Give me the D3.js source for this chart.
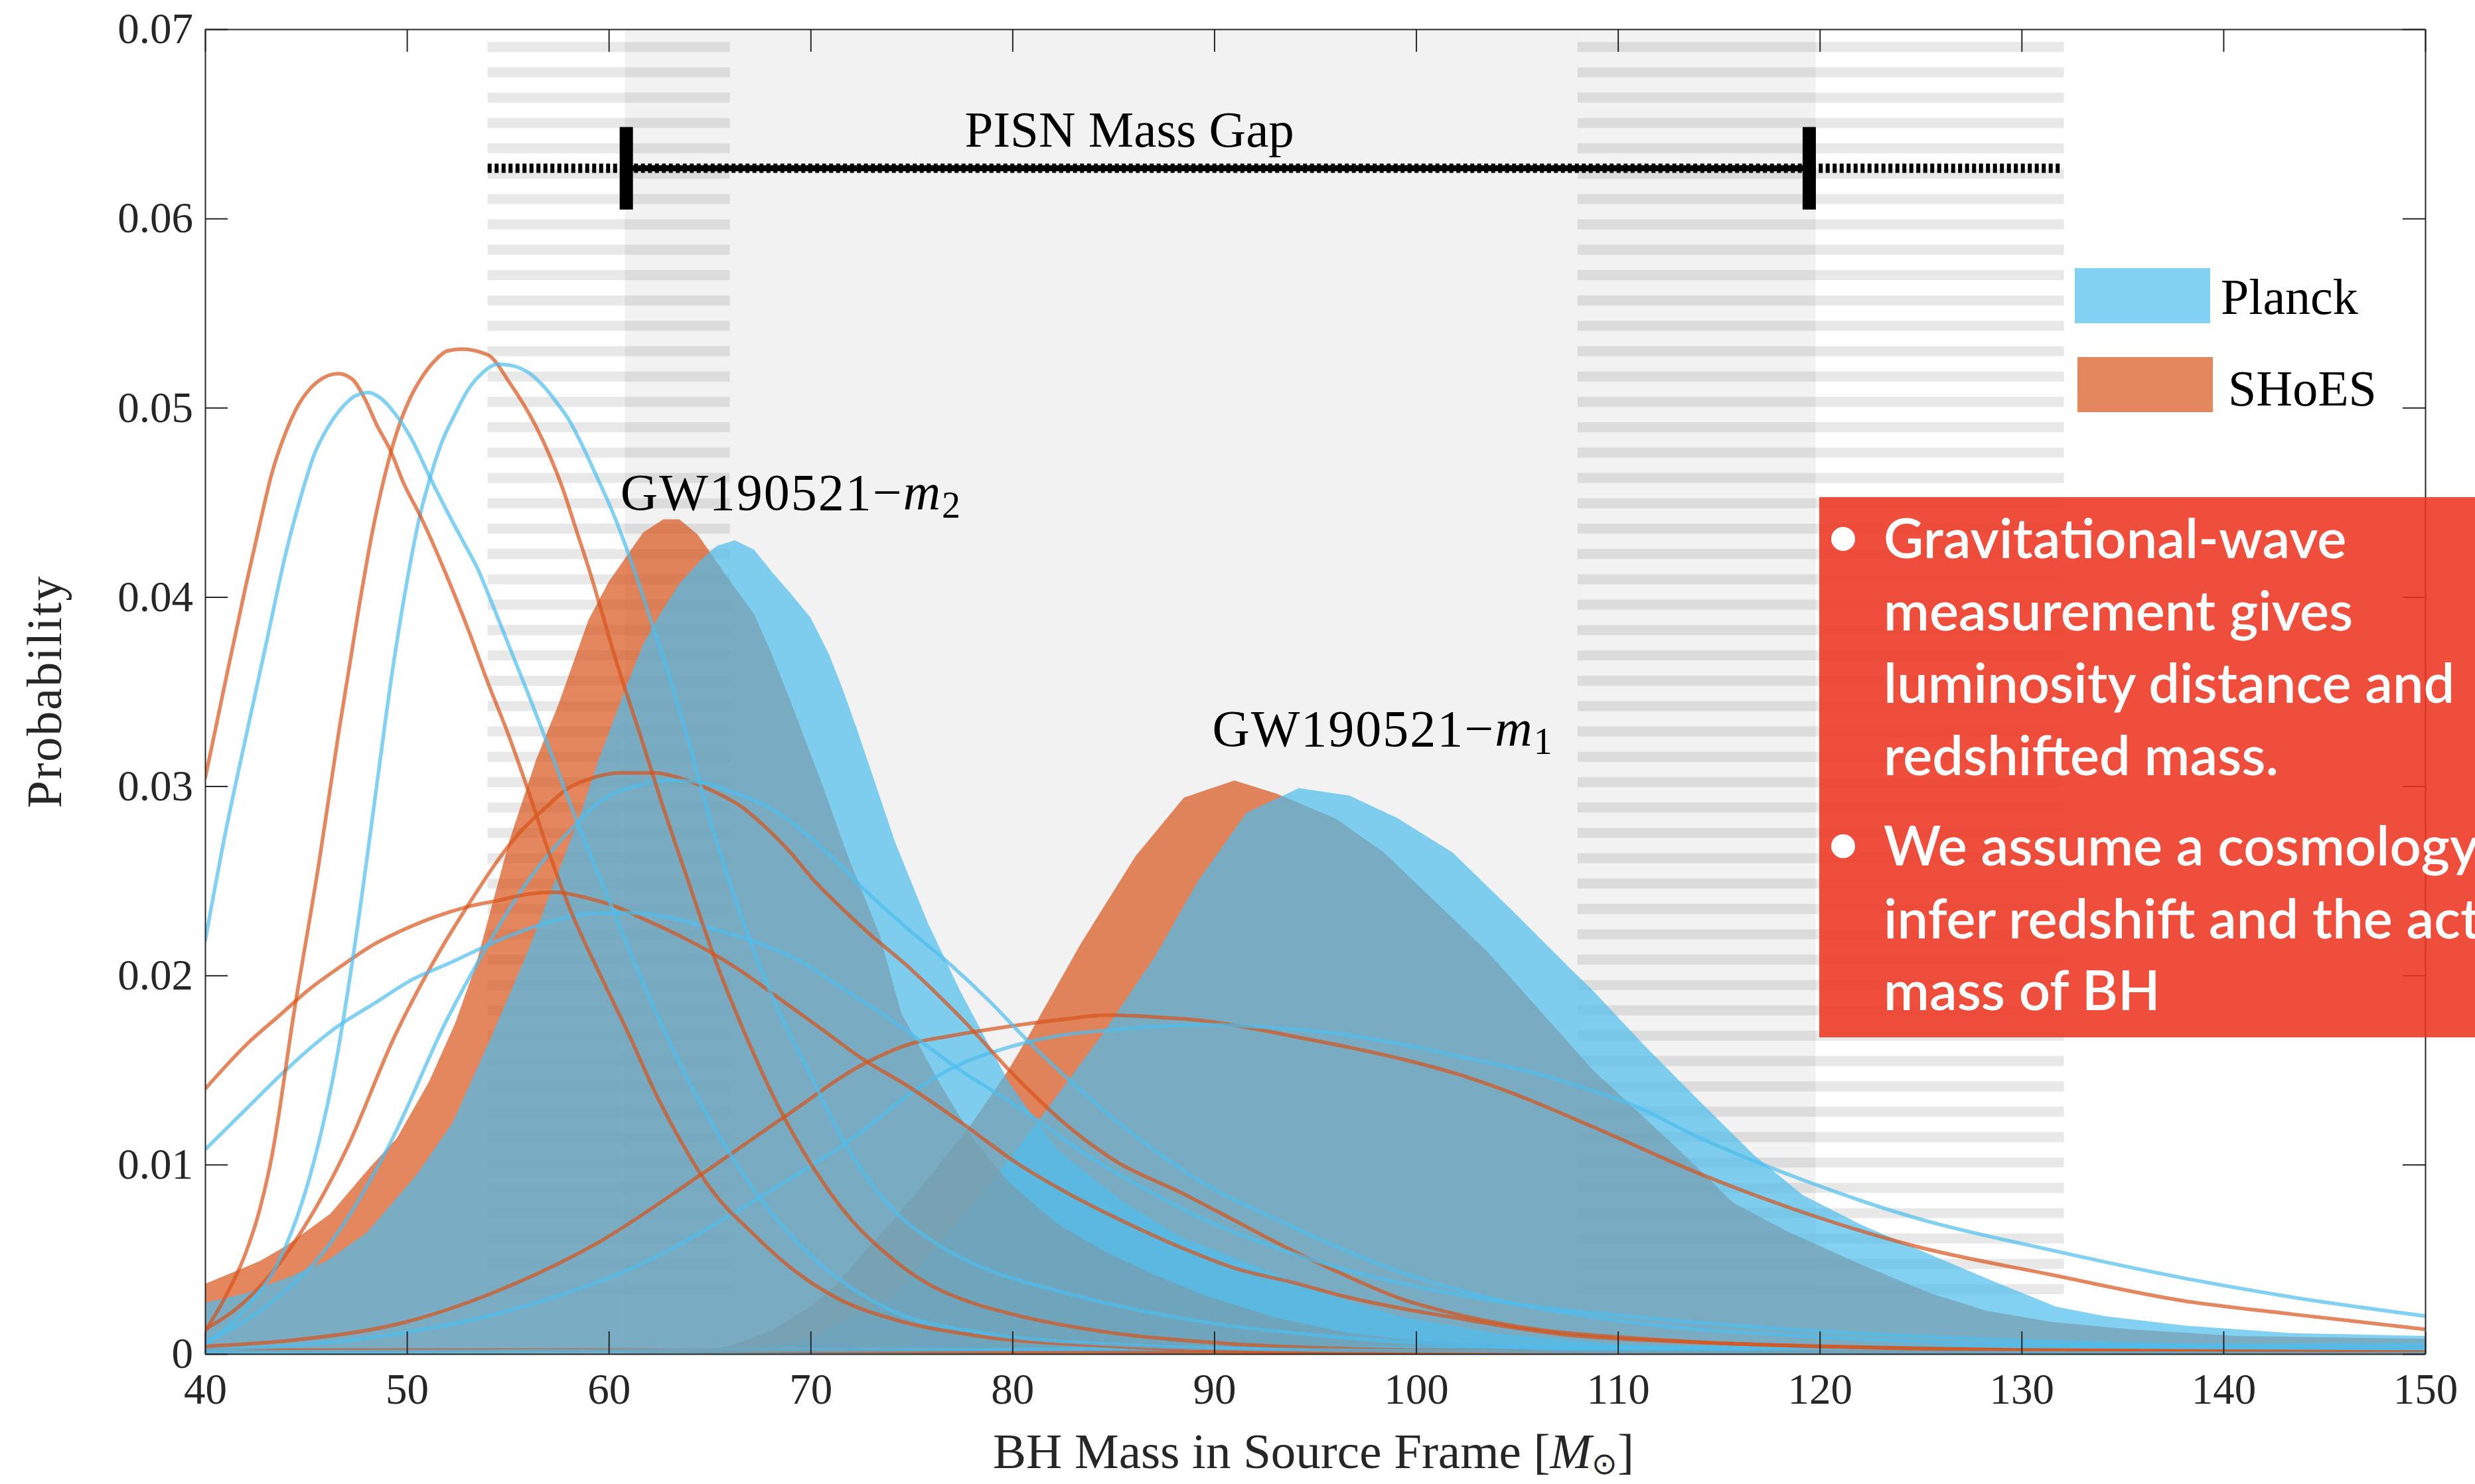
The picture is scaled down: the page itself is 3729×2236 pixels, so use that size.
<!DOCTYPE html>
<html><head><meta charset="utf-8">
<script src="https://cdn.jsdelivr.net/npm/d3@7"></script>
<style>
html,body{margin:0;padding:0;background:#fff;overflow:hidden}
svg{display:block}
</style></head><body>
<svg id="chart" width="3729" height="2236"></svg>
<script>
// ---------------- DATA ----------------
const xTicks = [40,50,60,70,80,90,100,110,120,130,140,150];
const yTicks = [0,0.01,0.02,0.03,0.04,0.05,0.06,0.07];
const xLabel = "BH Mass in Source Frame";
const yLabel = "Probability";
const legendLabels = ["Planck","SHoES"];
const gapLabel = "PISN Mass Gap";
const gapLabelPos = [85.8,0.06378];
const gapRegion = [60.8,119.8];          // shaded PISN gap
const gapBar = [60.87,119.48];           // error-bar ends
const gapBarY = 0.06265;
const gapBarHalf = 0.00218;
const gapUncertainty = [54,132];         // dotted extent
const hatchBands = [[54,66],[108,132.1]];
const hatchTop = 0.06933, hatchStep = 0.0013397, hatchThick = 0.000533, hatchCount = 50;
const eventLabels = [
  {name:"GW190521", sub:"2", x:60.58, y:0.04461},
  {name:"GW190521", sub:"1", x:89.9, y:0.03214}
];
const bulletText = [
  ["Gravitational-wave","measurement gives","luminosity distance and","redshifted mass."],
  ["We assume a cosmology to","infer redshift and the actual","mass of BH"]
];

// filled posteriors (SHoES = orange, Planck = blue)
const shoesM2Fill = [[40,0.0037],[42.7,0.0049],[44,0.0057],[46.2,0.0074],[48.2,0.0099],[49.5,0.0114],[51.1,0.0144],[52.4,0.0175],[53.4,0.0205],[55.1,0.0272],[56.4,0.0314],[57.5,0.0343],[59,0.0388],[60,0.0408],[61.7,0.0434],[62.7,0.0441],[63.5,0.0441],[64.4,0.0433],[66.1,0.0407],[67.2,0.0391],[68.1,0.0369],[69,0.0345],[70.5,0.0303],[71.85,0.0263],[73.4,0.0222],[74.5,0.0180],[76.4,0.0143],[78.1,0.0113],[79.8,0.0091],[82.2,0.0069],[84.6,0.0054],[87,0.0042],[89.5,0.0031],[93.1,0.0019],[96.7,0.0011],[100,0.0007],[105,0.0004],[110,0.0002],[120,0.0001],[150,0.00005]];
const planckM2Fill = [[40,0.0027],[42,0.0032],[44,0.0040],[46,0.0049],[48,0.0064],[50.5,0.0095],[52.25,0.0122],[54.2,0.0168],[56,0.0213],[57.3,0.0249],[58.65,0.0287],[59.5,0.0314],[60.7,0.0348],[61.7,0.0375],[62.6,0.0392],[63.5,0.0407],[64.6,0.042],[65.35,0.0427],[66.25,0.043],[67.2,0.0425],[68.1,0.0413],[69,0.0402],[70,0.0389],[70.9,0.037],[71.6,0.0351],[72.3,0.033],[74.2,0.0270],[75.8,0.0228],[77.4,0.0192],[79.8,0.0144],[82.2,0.0108],[85.4,0.0081],[88.3,0.0062],[91.9,0.0047],[95.5,0.0032],[99.1,0.0020],[103.9,0.0011],[110,0.0005],[120,0.0002],[150,0.0001]];
const shoesM1Fill = [[40,0],[60,0],[64,0.0002],[66,0.0004],[68,0.0012],[70,0.0025],[71.2,0.0036],[72.6,0.0053],[74.2,0.0072],[76,0.0095],[78,0.0122],[79.8,0.0150],[80.8,0.0168],[83.4,0.0217],[86.1,0.0263],[88.5,0.0294],[91,0.0303],[93.1,0.0296],[96,0.0283],[98.4,0.0265],[103.5,0.0213],[108.76,0.0150],[111.4,0.0124],[113.3,0.0105],[115.7,0.0080],[118.35,0.0065],[122.1,0.0047],[125.5,0.0032],[128.2,0.0023],[131.4,0.0017],[135.4,0.0013],[140.7,0.00095],[150,0.0008]];
const planckM1Fill = [[40,0],[62,0],[66,0.0001],[70,0.0008],[74,0.0030],[77.2,0.0068],[80,0.0105],[82.8,0.0145],[84.4,0.0168],[87.06,0.0210],[89.2,0.0250],[91.6,0.0286],[94.2,0.0299],[96.7,0.0295],[99.1,0.0283],[101.8,0.0265],[104.7,0.0235],[107.6,0.0204],[108.76,0.0192],[111.4,0.0162],[114.1,0.0133],[116.75,0.0105],[119.15,0.0084],[122.1,0.0068],[125.8,0.0051],[128.7,0.0038],[131.7,0.0025],[134.1,0.0020],[138.06,0.0015],[143.4,0.0011],[150,0.00095]];

// single-event posterior curves
const shoesLine1 = [[40,0.0304],[41,0.0355],[42,0.0405],[42.7,0.0438],[43.3,0.0465],[44,0.0487],[44.6,0.0501],[45.2,0.051],[45.9,0.0516],[46.6,0.0518],[47.3,0.0515],[47.9,0.0505],[48.5,0.0491],[49.2,0.0477],[49.8,0.0461],[50.7,0.0442],[51.9,0.0413],[53.1,0.0381],[54,0.0355],[55,0.0328],[56,0.0298],[57,0.0266],[58.2,0.0232],[59.5,0.0202],[60.9,0.0171],[62.4,0.0136],[63.7,0.0110],[65,0.0088],[67.2,0.0063],[69.2,0.0044],[71.4,0.0029],[74.2,0.0018],[78,0.0010],[85,0.0004],[95,0.0001],[150,0]];
const planckLine1 = [[40,0.0218],[41,0.0275],[42,0.0325],[43,0.0374],[44,0.0423],[44.8,0.0455],[45.4,0.0475],[46.1,0.049],[46.7,0.0499],[47.4,0.0506],[48.1,0.0508],[48.7,0.0505],[49.4,0.0497],[50.2,0.0484],[51.15,0.0463],[52,0.0445],[52.8,0.0429],[53.5,0.0415],[54.2,0.0397],[55.1,0.0373],[56,0.0349],[57.3,0.0313],[58.4,0.0282],[60,0.0240],[61.7,0.0196],[63.5,0.0154],[65.7,0.0111],[67.45,0.0083],[70.1,0.0051],[72.3,0.0033],[74.2,0.0022],[78,0.0012],[85,0.0005],[95,0.0002],[110,0.0001],[150,0]];
const shoesLine2 = [[40,0.0012],[41,0.0030],[42,0.0053],[42.7,0.0076],[43.3,0.0104],[44.4,0.0180],[45.65,0.0260],[46.6,0.0327],[47.6,0.0393],[48.3,0.0435],[48.9,0.0464],[49.5,0.0487],[50.16,0.0505],[50.8,0.0517],[51.4,0.0525],[52,0.053],[52.7,0.0531],[54,0.0528],[55.1,0.0513],[56.4,0.049],[57.1,0.0474],[57.76,0.0456],[58.4,0.0435],[59.1,0.0412],[59.6,0.0394],[60.2,0.0372],[60.85,0.0350],[61.5,0.0329],[62.6,0.0292],[63.9,0.0251],[65.25,0.0209],[67,0.0163],[68.3,0.0133],[70.1,0.0099],[71.85,0.0073],[74.2,0.0049],[76,0.0036],[78,0.0027],[80,0.0021],[85,0.0011],[90,0.0006],[100,0.0002],[110,0.0001],[150,0]];
const planckLine2 = [[40,0.0005],[42.1,0.0025],[43.7,0.0050],[44.8,0.0080],[45.5,0.0106],[46.5,0.0155],[47.5,0.0222],[48.5,0.0300],[49.2,0.0355],[50.05,0.0411],[50.6,0.0441],[51.15,0.0463],[51.7,0.0481],[52.4,0.0497],[53,0.0509],[53.7,0.0518],[54.5,0.0523],[55.3,0.0522],[56.1,0.0518],[56.8,0.0511],[57.4,0.0503],[58,0.0494],[58.6,0.0482],[59.3,0.0466],[60.3,0.0442],[61.3,0.0413],[62.2,0.0384],[63.05,0.0356],[63.7,0.0333],[65.25,0.0274],[66.8,0.0224],[68.3,0.0184],[70.1,0.0145],[71.6,0.0113],[74.2,0.0075],[76,0.0060],[78,0.0048],[80,0.0040],[82,0.0034],[85,0.0026],[90,0.0016],[95,0.0010],[100,0.0006],[110,0.0002],[120,0.0001],[150,0]];
const shoesLine3 = [[40,0.014],[42.1,0.0164],[43.7,0.0179],[45.2,0.0193],[46.75,0.0205],[48.3,0.0216],[49.8,0.0224],[51.4,0.0231],[52.9,0.0236],[54.7,0.024],[56,0.0243],[57.3,0.0244],[58.9,0.0241],[60.2,0.0237],[61.7,0.023],[63.5,0.0221],[65.25,0.0211],[66.6,0.0202],[68.3,0.0189],[70.5,0.0172],[72.7,0.0155],[74.75,0.0142],[77.5,0.0122],[80.2,0.0101],[82.9,0.0084],[85.7,0.0069],[88.4,0.0056],[91.1,0.0045],[93.8,0.0038],[96.6,0.0030],[99.3,0.0024],[102,0.0019],[104.75,0.0014],[107.5,0.0010],[112,0.0007],[120,0.0004],[130,0.0002],[150,0.0001]];
const planckLine3 = [[40,0.0108],[41.9,0.0128],[44.1,0.0151],[46.3,0.0171],[48.5,0.0186],[50.3,0.0198],[52,0.0206],[55.1,0.0221],[57.3,0.0229],[59.5,0.0233],[60.85,0.0233],[62.8,0.0231],[65,0.0225],[67.2,0.0218],[69.4,0.0208],[71.6,0.0193],[74.2,0.0175],[77.4,0.0150],[80.5,0.0129],[83.7,0.0105],[86.6,0.0087],[89.5,0.0071],[93.1,0.0056],[96.7,0.0044],[100.3,0.0035],[105.2,0.0026],[110.4,0.0020],[120,0.0012],[130,0.0007],[150,0.0003]];
const shoesLine4 = [[40,0.0013],[41.9,0.0027],[44.1,0.0054],[47,0.0108],[49.4,0.0168],[51.15,0.0204],[52.9,0.0235],[55.55,0.0275],[56.9,0.0289],[58,0.0299],[59.1,0.0304],[60.6,0.0307],[62.2,0.0307],[63.9,0.0303],[65.25,0.0297],[66.6,0.0289],[67.7,0.0279],[69,0.0265],[70.1,0.0251],[71.4,0.0237],[72.7,0.0224],[75,0.0203],[77.5,0.0177],[80.2,0.0146],[82.9,0.0119],[85.1,0.0102],[88.4,0.0085],[91.1,0.0070],[93.8,0.0055],[96.6,0.0041],[99.3,0.0029],[102,0.0021],[104.75,0.0015],[112,0.00075],[120,0.0004],[130,0.0002],[150,0.0001]];
const planckLine4 = [[40,0.0006],[43,0.0025],[46.1,0.0057],[49.2,0.0112],[52,0.0177],[54,0.0216],[55.8,0.0247],[58.2,0.0278],[59.7,0.0293],[61.3,0.030],[63.05,0.0303],[64.6,0.0302],[66.1,0.0297],[67.9,0.0289],[69.65,0.0276],[71.4,0.0259],[72.7,0.0245],[75,0.0223],[76.9,0.0206],[78.9,0.0186],[80.8,0.0165],[83,0.0143],[85.4,0.0121],[87.5,0.0104],[90,0.0087],[93.1,0.0071],[96.2,0.0056],[99.85,0.0041],[103.9,0.0029],[110.4,0.0017],[120,0.0009],[130,0.0005],[150,0.0002]];
const shoesLine5 = [[40,0.0004],[44.1,0.0007],[50,0.0017],[55.1,0.0036],[59.5,0.0059],[64.6,0.0095],[68.8,0.0126],[72.6,0.0153],[75,0.0164],[76.9,0.0168],[79.8,0.0173],[82.7,0.0177],[84.7,0.0179],[87.1,0.0178],[89.5,0.0176],[91.9,0.0172],[94.3,0.0167],[96.7,0.0162],[99.6,0.0155],[102,0.0148],[105.2,0.0136],[108.76,0.012],[114.1,0.0095],[119.4,0.0074],[124.7,0.0057],[131.4,0.0042],[138.06,0.0028],[143.4,0.0021],[150,0.0013]];
const planckLine5 = [[40,0.0002],[48.5,0.0009],[55.1,0.0023],[61.7,0.0048],[67.2,0.0081],[72.6,0.0118],[75,0.0138],[77.4,0.0153],[79.8,0.0162],[82.2,0.0168],[84.7,0.0171],[87.1,0.0173],[89.5,0.0174],[91.9,0.0173],[95.5,0.017],[99.1,0.0164],[102.7,0.0156],[106.4,0.0147],[108.76,0.0139],[110.4,0.0133],[114.1,0.0114],[119.4,0.0091],[124.7,0.0072],[131.4,0.0055],[138.06,0.004],[143.4,0.003],[150,0.002]];
const shoesLine6 = [[40,0.0002],[60,0.0002],[80,0.0001],[100,0.0001],[150,0.0001]];
const planckLine6 = [[40,0.0001],[70,0.0002],[100,0.0003],[130,0.0004],[150,0.0005]];

// ---------------- LAYOUT ----------------
const W = 3729, H = 2236;
const P = {left:309, right:3654, top:44, bottom:2040};
const BLUE = "rgb(77,190,238)", ORANGE = "rgb(217,83,25)", ALPHA = 0.7;
const AXC = "#262626";
const SERIF = "'Liberation Serif','Times New Roman',serif";

const x = d3.scaleLinear().domain([40,150]).range([P.left,P.right]);
const y = d3.scaleLinear().domain([0,0.07]).range([P.bottom,P.top]);

const svg = d3.select("#chart");
svg.append("rect").attr("width",W).attr("height",H).attr("fill","#fff");
svg.append("defs").append("clipPath").attr("id","clip").append("rect")
  .attr("x",P.left).attr("y",P.top).attr("width",P.right-P.left).attr("height",P.bottom-P.top);

const g = svg.append("g").attr("clip-path","url(#clip)");

// PISN gap shading
g.append("rect").attr("x",x(gapRegion[0])).attr("width",x(gapRegion[1])-x(gapRegion[0]))
  .attr("y",P.top).attr("height",P.bottom-P.top).attr("fill","#000").attr("fill-opacity",0.05);
// hatched uncertainty bands
hatchBands.forEach(b=>{
  d3.range(hatchCount).forEach(i=>{
    const t = hatchTop - i*hatchStep;
    g.append("rect").attr("x",x(b[0])).attr("width",x(b[1])-x(b[0]))
      .attr("y",y(t)).attr("height",y(t-hatchThick)-y(t))
      .attr("fill","#000").attr("fill-opacity",0.09);
  });
});

// axes (drawn beneath the translucent data)
const fmtY = d=> d===0 ? "0" : d3.format(".2f")(d);
const axB = svg.append("g").attr("transform",`translate(0,${P.bottom})`)
  .call(d3.axisBottom(x).tickValues(xTicks).tickSizeInner(-34).tickSizeOuter(0).tickPadding(29).tickFormat(d3.format("d")));
const axT = svg.append("g").attr("transform",`translate(0,${P.top})`)
  .call(d3.axisTop(x).tickValues(xTicks).tickSizeInner(-34).tickSizeOuter(0).tickFormat(""));
const axL = svg.append("g").attr("transform",`translate(${P.left},0)`)
  .call(d3.axisLeft(y).tickValues(yTicks).tickSizeInner(-34).tickSizeOuter(0).tickPadding(18).tickFormat(fmtY));
const axR = svg.append("g").attr("transform",`translate(${P.right},0)`)
  .call(d3.axisRight(y).tickValues(yTicks).tickSizeInner(-34).tickSizeOuter(0).tickFormat(""));
[axB,axT,axL,axR].forEach(a=>{
  a.selectAll("path,line").attr("stroke",AXC).attr("stroke-width",2);
  a.selectAll("text").attr("fill",AXC).style("font-family",SERIF).style("font-size","65px");
});

// filled posteriors
const area = d3.area().x(d=>x(d[0])).y0(y(0)).y1(d=>y(d[1]));
[[shoesM1Fill,ORANGE],[planckM1Fill,BLUE],[shoesM2Fill,ORANGE],[planckM2Fill,BLUE]].forEach(([d,c])=>{
  g.append("path").datum(d).attr("d",area).attr("fill",c).attr("fill-opacity",ALPHA);
});

// curves
const line = d3.line().x(d=>x(d[0])).y(d=>y(d[1])).curve(d3.curveMonotoneX);
[[shoesLine6,ORANGE],[planckLine6,BLUE],[shoesLine5,ORANGE],[planckLine5,BLUE],
 [shoesLine4,ORANGE],[planckLine4,BLUE],[shoesLine3,ORANGE],[planckLine3,BLUE],
 [shoesLine2,ORANGE],[planckLine2,BLUE],[shoesLine1,ORANGE],[planckLine1,BLUE]].forEach(([d,c])=>{
  g.append("path").datum(d).attr("d",line).attr("fill","none").attr("stroke",c)
   .attr("stroke-opacity",ALPHA).attr("stroke-width",5.5).attr("stroke-linejoin","round");
});

// PISN mass-gap bar
g.append("line").attr("x1",x(gapUncertainty[0])).attr("x2",x(gapUncertainty[1]))
  .attr("y1",y(gapBarY)).attr("y2",y(gapBarY)).attr("stroke","#000").attr("stroke-width",14)
  .attr("stroke-dasharray","6 4.5");
g.append("line").attr("x1",x(gapBar[0])).attr("x2",x(gapBar[1]))
  .attr("y1",y(gapBarY)).attr("y2",y(gapBarY)).attr("stroke","#000").attr("stroke-width",9);
gapBar.forEach(v=>{
  g.append("rect").attr("x",x(v)-10).attr("width",20)
    .attr("y",y(gapBarY+gapBarHalf)).attr("height",y(gapBarY-gapBarHalf)-y(gapBarY+gapBarHalf))
    .attr("fill","#000");
});
svg.append("text").attr("x",x(gapLabelPos[0])).attr("y",y(gapLabelPos[1]))
  .attr("text-anchor","middle").style("font-family",SERIF).style("font-size","77px")
  .text(gapLabel);

// event labels
eventLabels.forEach(e=>{
  const t = svg.append("text").attr("x",x(e.x)).attr("y",y(e.y))
    .style("font-family",SERIF).style("font-size","78px").attr("letter-spacing","2");
  t.append("tspan").text(e.name+"\u2212");
  t.append("tspan").attr("font-style","italic").text("m");
  t.append("tspan").attr("font-size","56px").attr("dy","12").text(e.sub);
});

// legend
const legend = [{c:BLUE,x:3126,y:404,tx:3346,ty:473},{c:ORANGE,x:3130,y:538,tx:3357,ty:611}];
legend.forEach((l,i)=>{
  svg.append("rect").attr("x",l.x).attr("y",l.y).attr("width",204).attr("height",83)
    .attr("fill",l.c).attr("fill-opacity",ALPHA);
  svg.append("text").attr("x",l.tx).attr("y",l.ty).style("font-family",SERIF)
    .style("font-size","76px").text(legendLabels[i]);
});

// axis titles
const xt = svg.append("text").attr("x",1979).attr("y",2212).attr("text-anchor","middle")
  .style("font-family",SERIF).style("font-size","75px").attr("fill",AXC);
xt.append("tspan").text(xLabel+" [");
xt.append("tspan").attr("font-style","italic").text("M");
xt.append("tspan").attr("font-size","46px").attr("dy","9").text("\u2299");
xt.append("tspan").attr("dy","-9").text("]");
svg.append("text").attr("transform","translate(92,1042) rotate(-90)").attr("text-anchor","middle")
  .style("font-family",SERIF).style("font-size","74px").attr("letter-spacing","2").attr("fill",AXC)
  .text(yLabel);

// annotation box
svg.append("rect").attr("x",2741).attr("y",749).attr("width",W-2741).attr("height",814)
  .attr("fill","rgb(238,54,33)").attr("fill-opacity",0.88);
const baselines = [[841,950,1059,1168],[1304,1414,1522]];
bulletText.forEach((lines,bi)=>{
  svg.append("circle").attr("cx",2777).attr("cy",baselines[bi][0]-29).attr("r",18).attr("fill","#fff");
  lines.forEach((s,li)=>{
    svg.append("text").attr("x",2838).attr("y",baselines[bi][li])
      .style("font-family","Lato,'Open Sans',sans-serif").style("font-size","83px")
      .style("font-weight","600").attr("fill","#fff").text(s);
  });
});
</script></body></html>
